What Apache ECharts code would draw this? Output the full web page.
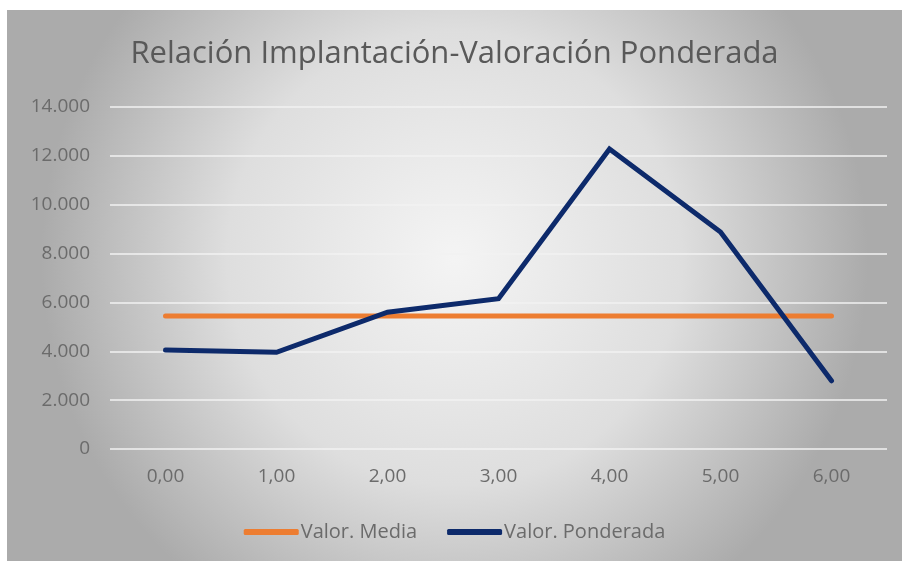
<!DOCTYPE html>
<html>
<head>
<meta charset="utf-8">
<script src="https://cdn.jsdelivr.net/npm/echarts@6/dist/echarts.min.js"></script>
<style>
html,body{margin:0;padding:0;background:#fff;}
#chart{position:absolute;left:7px;top:10px;width:895px;height:551px;}
</style>
</head>
<body>
<div id="chart"></div>
<script>
var categorias = ['0,00','1,00','2,00','3,00','4,00','5,00','6,00'];
var valorMedia = [5440,5440,5440,5440,5440,5440,5440];
var valorPonderada = [4050,3960,5600,6150,12280,8880,2790];

//formato de miles con punto
function miles(v){
	return String(v).replace(/\B(?=(\d{3})+(?!\d))/g, '.');
}

var chart = echarts.init(document.getElementById('chart'));
chart.setOption({
	backgroundColor: {
		type: 'radial', x: 0.5, y: 0.45, r: 0.75,
		colorStops: [
			{offset: 0, color: '#f4f4f4'},
			{offset: 0.55, color: '#dedede'},
			{offset: 1, color: '#ababab'}
		]
	},
	animation: false,
	title: {
		text: 'Relación Implantación-Valoración Ponderada',
		left: 'center',
		top: 24,
		textStyle: {
			fontFamily: 'Open Sans',
			fontWeight: 'normal',
			fontSize: 31,
			color: '#595959'
		}
	},
	legend: {
		bottom: 14,
		left: 'center',
		itemWidth: 55,
		itemHeight: 6,
		itemGap: 30,
		icon: 'roundRect',
		textStyle: {fontFamily: 'Open Sans', fontSize: 20, color: '#6b6b6b', padding: [0,0,0,-3]},
		data: ['Valor. Media','Valor. Ponderada']
	},
	grid: {left: 103, right: 15, top: 97, bottom: 112},
	xAxis: {
		type: 'category',
		data: categorias,
		boundaryGap: true,
		axisLine: {show: false},
		axisTick: {show: false},
		axisLabel: {margin: 18, fontFamily: 'Open Sans', fontSize: 19, color: '#6b6b6b'}
	},
	yAxis: {
		type: 'value',
		min: 0, max: 14000, interval: 2000,
		axisLine: {show: false},
		axisTick: {show: false},
		splitLine: {lineStyle: {color: '#f2f2f2', width: 1.5}},
		axisLabel: {
			margin: 20,
			fontFamily: 'Open Sans', fontSize: 19, color: '#6b6b6b',
			formatter: miles
		}
	},
	series: [
		{
			name: 'Valor. Media',
			type: 'line',
			data: valorMedia,
			showSymbol: false,
			lineStyle: {color: '#ed7d31', width: 5, cap: 'round'},
			itemStyle: {color: '#ed7d31'}
		},
		{
			name: 'Valor. Ponderada',
			type: 'line',
			data: valorPonderada,
			showSymbol: false,
			lineStyle: {color: '#0d2a6b', width: 5, cap: 'round', join: 'miter'},
			itemStyle: {color: '#0d2a6b'}
		}
	]
});
</script>
</body>
</html>
